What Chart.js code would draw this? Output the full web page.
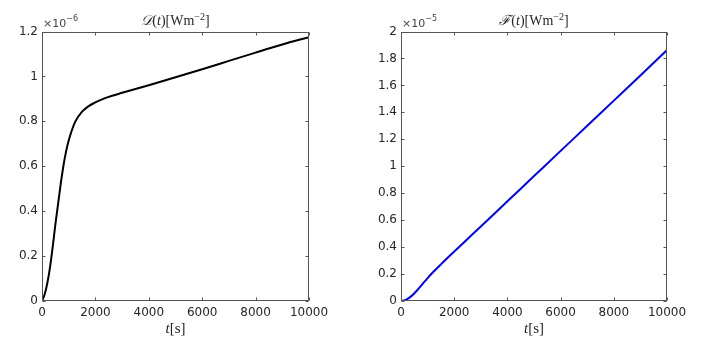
<!DOCTYPE html>
<html>
<head>
<meta charset="utf-8">
<script src="https://cdn.jsdelivr.net/npm/chart.js@4.4.0/dist/chart.umd.min.js"></script>
<style>
html, body { margin: 0; padding: 0; background: #fff; }
#wrap { position: relative; width: 705px; height: 344px; }
canvas { position: absolute; top: 0; }
</style>
</head>
<body>
<div id="wrap">
  <canvas id="dChart" width="355" height="344" style="left:0"></canvas>
  <canvas id="fChart" width="350" height="344" style="left:355px"></canvas>
</div>
<script>
// data, y values in units of the axis multiplier
const dTime = [0, 100, 200, 300, 400, 500, 600, 700, 800, 900, 1000, 1250, 1500, 1750, 2000, 2250, 2500, 3000, 3500, 4000, 5000, 6000, 7000, 8000, 9000, 10000];
const dValues = [0, 0.03, 0.08, 0.15, 0.24, 0.34, 0.43, 0.52, 0.6, 0.665, 0.715, 0.8, 0.843, 0.868, 0.884, 0.898, 0.909, 0.927, 0.944, 0.961, 0.996, 1.032, 1.069, 1.106, 1.142, 1.175];

const fTime = [0, 200, 400, 600, 800, 1000, 1200, 1500, 2000, 2500, 3000, 4000, 5000, 6000, 7000, 8000, 9000, 10000];
const fValues = [0, 0.01, 0.038, 0.078, 0.124, 0.17, 0.213, 0.272, 0.367, 0.46, 0.553, 0.74, 0.927, 1.114, 1.3, 1.487, 1.674, 1.862];

const xTicks = [0, 2000, 4000, 6000, 8000, 10000];
const dTicks = [0, 0.2, 0.4, 0.6, 0.8, 1, 1.2];
const fTicks = [0, 0.2, 0.4, 0.6, 0.8, 1, 1.2, 1.4, 1.6, 1.8, 2];

const axisColor = '#555555';
const textColor = '#262626';
const serif = "'Liberation Serif', 'DejaVu Serif', serif";
const sans = "'DejaVu Sans', sans-serif";

function drawRich(ctx, segs, x, base, align) {
  let w = 0;
  segs.forEach(s => { ctx.font = s.f; w += ctx.measureText(s.t).width; });
  let cx = align === 'center' ? x - w / 2 : x;
  segs.forEach(s => {
    ctx.font = s.f;
    ctx.fillText(s.t, cx, base + (s.dy || 0));
    cx += ctx.measureText(s.t).width;
  });
}

const framePlugin = {
  id: 'frame',
  afterDraw(chart, args, opts) {
    const { ctx, chartArea: a } = chart;
    const x = chart.scales.x, y = chart.scales.y;
    ctx.save();
    ctx.strokeStyle = axisColor;
    ctx.lineWidth = 1;
    const L = Math.round(a.left) + 0.5, R = Math.round(a.right) - 0.5;
    const T = Math.round(a.top) + 0.5, B = Math.round(a.bottom) - 0.5;
    ctx.strokeRect(L, T, R - L, B - T);
    ctx.beginPath();
    x.ticks.forEach(t => {
      const px = Math.round(x.getPixelForValue(t.value)) + 0.5;
      ctx.moveTo(px, B); ctx.lineTo(px, B - 3);
      ctx.moveTo(px, T); ctx.lineTo(px, T + 3);
    });
    y.ticks.forEach(t => {
      const py = Math.round(y.getPixelForValue(t.value)) + 0.5;
      ctx.moveTo(L, py); ctx.lineTo(L + 3, py);
      ctx.moveTo(R, py); ctx.lineTo(R - 3, py);
    });
    ctx.stroke();

    ctx.fillStyle = textColor;
    ctx.textAlign = 'left';
    ctx.textBaseline = 'alphabetic';
    const cx = (a.left + a.right) / 2;
    drawRich(ctx, [
      { t: opts.sym, f: 'italic 14px ' + serif },
      { t: '(', f: '14px ' + serif },
      { t: 't', f: 'italic 14px ' + serif },
      { t: ')[Wm', f: '14px ' + serif },
      { t: '\u22122', f: '10px ' + serif, dy: -5 },
      { t: ']', f: '14px ' + serif }
    ], cx, 25, 'center');

    ctx.fillStyle = '#444';
    drawRich(ctx, [
      { t: '\u00d710', f: '11px ' + sans },
      { t: opts.exp, f: '8px ' + sans, dy: -6 }
    ], a.left + 1, 27, 'left');

    ctx.fillStyle = textColor;
    drawRich(ctx, [
      { t: 't', f: 'italic 15px ' + serif },
      { t: '[s]', f: '15px ' + serif }
    ], cx, 333, 'center');
    ctx.restore();
  }
};

function makeChart(id, times, values, color, yMax, yTicks, yWidth, padRight, sym, exp) {
  return new Chart(document.getElementById(id), {
    type: 'line',
    data: {
      datasets: [{
        data: times.map((t, i) => ({ x: t, y: values[i] })),
        borderColor: color,
        borderWidth: 2,
        pointRadius: 0,
        cubicInterpolationMode: 'monotone',
        fill: false
      }]
    },
    options: {
      responsive: false,
      animation: false,
      layout: { padding: { top: 31.5, right: padRight, left: 0, bottom: 0 } },
      plugins: {
        legend: { display: false },
        tooltip: { enabled: false },
        frame: { sym: sym, exp: exp }
      },
      scales: {
        x: {
          type: 'linear', min: 0, max: 10000,
          afterBuildTicks: s => { s.ticks = xTicks.map(v => ({ value: v })); },
          afterFit: s => { s.height = 43; },
          grid: { display: false, drawTicks: false },
          border: { display: false },
          ticks: {
            padding: 5, color: textColor, maxRotation: 0,
            font: { family: 'DejaVu Sans', size: 12 },
            callback: v => String(v)
          }
        },
        y: {
          type: 'linear', min: 0, max: yMax,
          afterBuildTicks: s => { s.ticks = yTicks.map(v => ({ value: v })); },
          afterFit: s => { s.width = yWidth; },
          grid: { display: false, drawTicks: false },
          border: { display: false },
          ticks: {
            padding: 4, color: textColor,
            font: { family: 'DejaVu Sans', size: 12 },
            callback: v => String(Math.round(v * 10) / 10)
          }
        }
      }
    },
    plugins: [framePlugin]
  });
}

makeChart('dChart', dTime, dValues, '#000000', 1.2, dTicks, 42, 46, '\u{1D49F}', '\u22126');
makeChart('fChart', fTime, fValues, '#0000ff', 2, fTicks, 46, 38, '\u2131', '\u22125');
</script>
</body>
</html>
